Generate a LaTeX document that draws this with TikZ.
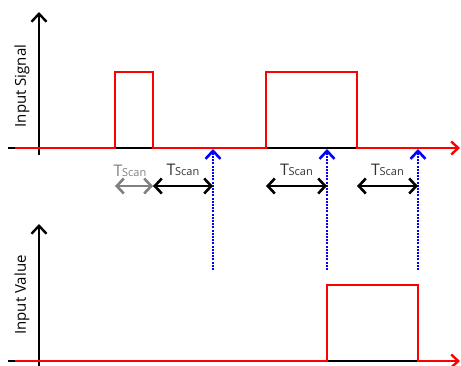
\documentclass[tikz,border=0pt]{standalone}
\usepackage{fontspec}
\setmainfont{Open Sans}
\usetikzlibrary{arrows.meta, positioning, calc}

\newcommand{\tscan}{T\kern-0.3pt{\fontsize{11}{12}\selectfont Scan}}

\tikzset{
    axisline/.style={line width=1.3pt, black},
    axis/.style={line width=1.4pt, -{Straight Barb[length=8pt, width=15pt, line width=2.4pt]}},
    signal/.style={line width=1.4pt, red, -{Straight Barb[length=7pt, width=13pt, line width=2.4pt]}},
    scanmark/.style={line width=1.1pt, blue, dash pattern=on 2pt off 1.2pt, -{Straight Barb[length=8pt, width=15pt, line width=2.6pt]}},
    period/.style={line width=1.4pt, {Straight Barb[length=7pt, width=15pt, line width=2.6pt]}-{Straight Barb[length=7pt, width=15pt, line width=2.6pt]}},
    axislabel/.style={rotate=90, font=\fontsize{15}{18}\selectfont},
    scanlabel/.style={font=\fontsize{16}{18}\selectfont, text=black!80, inner sep=0pt}
}

\begin{document}
\begin{tikzpicture}[x=1pt, y=-1pt]
    \useasboundingbox (0,0) rectangle (461,365);

    % ==========================================
    % TOP GRAPH: Input Signal
    % ==========================================
    \coordinate (sigO) at (39,148);
    \coordinate (sigTop) at (39,12);

    % Axes
    \draw[axisline] (8,148) -- (455,148);
    \draw[axis] (39,155) -- (sigTop);
    \node[axislabel] (sigLabel) at (22,86) {Input Signal};

    % Two input pulses
    \draw[signal] (15,148) -- (115,148) -- (115,72) -- (153,72) -- (153,148)
        -- (266,148) -- (266,72) -- (357,72) -- (357,148) -- (460,148);

    % Scan instants (dotted, reaching down towards the lower graph)
    \foreach \x [count=\i] in {213,327,418} {
        \coordinate (scan\i) at (\x,149);
        \coordinate (scan\i foot) at (\x,270);
        \draw[scanmark] (scan\i foot) -- (scan\i);
    }

    % Scan periods
    \coordinate (gA) at (115,186);
    \coordinate (gB) at (153,186);
    \draw[period, gray] (gA) -- (gB);
    \node[scanlabel, text=gray] (gLabel) at (130,171) {\tscan};

    \foreach \a/\b [count=\i] in {153/213,266/327,357/418} {
        \coordinate (pA\i) at (\a,186);
        \coordinate (pB\i) at (\b,186);
        \draw[period] (pA\i) -- (pB\i);
        \node[scanlabel] (pLabel\i) at ($(pA\i)!0.5!(pB\i)+(0,-16)$) {\tscan};
    }

    % ==========================================
    % BOTTOM GRAPH: Input Value
    % ==========================================
    \coordinate (valO) at (39,361);
    \coordinate (valTop) at (39,224);

    % Axes
    \draw[axisline] (8,361) -- (455,361);
    \draw[axis] (39,366) -- (valTop);
    \node[axislabel] (valLabel) at (22,295) {Input Value};

    % Value latched between the 2nd and 3rd scan
    \draw[signal] (15,361) -- (327,361) -- (327,285) -- (418,285) -- (418,361) -- (460,361);

\end{tikzpicture}
\end{document}
